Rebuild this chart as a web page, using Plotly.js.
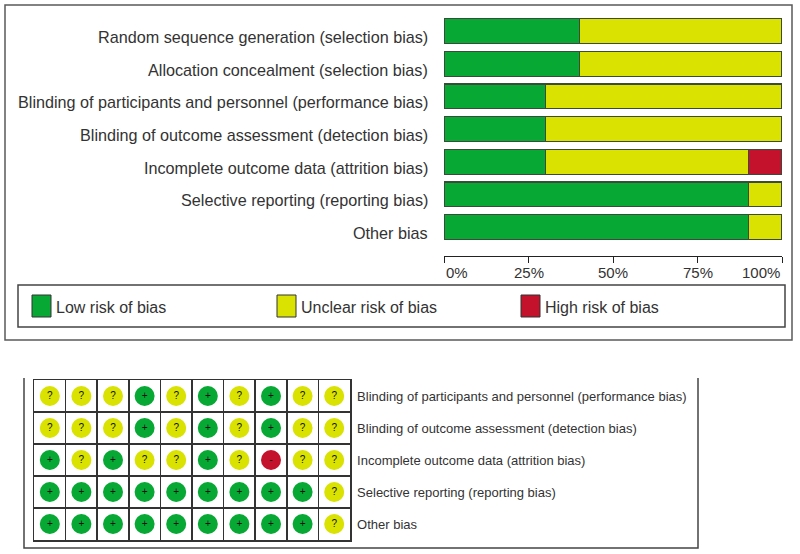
<!DOCTYPE html>
<html>
<head>
<meta charset="utf-8">
<script src="https://cdn.plot.ly/plotly-3.0.1.min.js"></script>
<style>html,body{margin:0;padding:0;background:#fff;}#chart{width:800px;height:554px;}</style>
</head>
<body>
<div id="chart"></div>
<script>
// ---- Data ----
const domains = [
  'Random sequence generation (selection bias)',
  'Allocation concealment (selection bias)',
  'Blinding of participants and personnel (performance bias)',
  'Blinding of outcome assessment (detection bias)',
  'Incomplete outcome data (attrition bias)',
  'Selective reporting (reporting bias)',
  'Other bias'
];
const lowRisk     = [40, 40, 30, 30, 30, 90, 90];
const unclearRisk = [60, 60, 70, 70, 60, 10, 10];
const highRisk    = [0, 0, 0, 0, 10, 0, 0];
const pctTicks = [0, 25, 50, 75, 100];
const pctLabels = ['0%', '25%', '50%', '75%', '100%'];
const legendNames = ['Low risk of bias', 'Unclear risk of bias', 'High risk of bias'];

const gridRows = [
  'Blinding of participants and personnel (performance bias)',
  'Blinding of outcome assessment (detection bias)',
  'Incomplete outcome data (attrition bias)',
  'Selective reporting (reporting bias)',
  'Other bias'
];
const rowBlindingParticipants = ['?','?','?','+','?','+','?','+','?','?'];
const rowBlindingOutcome      = ['?','?','?','+','?','+','?','+','?','?'];
const rowIncompleteData       = ['+','?','+','?','?','+','?','-','?','?'];
const rowSelectiveReporting   = ['+','+','+','+','+','+','+','+','+','?'];
const rowOtherBias            = ['+','+','+','+','+','+','+','+','+','?'];
const gridJudgements = [rowBlindingParticipants, rowBlindingOutcome, rowIncompleteData, rowSelectiveReporting, rowOtherBias];

// ---- Styles ----
const GREEN = '#07a834', YELLOW = '#d9e200', RED = '#c4122c';
const colorOf = {'+': GREEN, '?': YELLOW, '-': RED};
const W = 800, H = 554;
const px = x => x / W;
const py = y => 1 - y / H;
const FONT = 'Liberation Sans, Arial, sans-serif';

const barLine = {color: '#3c4a3c', width: 1.2};
const traces = [
  {type: 'bar', orientation: 'h', y: domains, x: lowRisk, name: legendNames[0],
   marker: {color: GREEN, line: barLine}, xaxis: 'x', yaxis: 'y', hoverinfo: 'x+y'},
  {type: 'bar', orientation: 'h', y: domains, x: unclearRisk, name: legendNames[1],
   marker: {color: YELLOW, line: barLine}, xaxis: 'x', yaxis: 'y', hoverinfo: 'x+y'},
  {type: 'bar', orientation: 'h', y: domains, x: highRisk, name: legendNames[2],
   marker: {color: RED, line: barLine}, xaxis: 'x', yaxis: 'y', hoverinfo: 'x+y'}
];

// grid scatter
const gx = [], gy = [], gc = [], gt = [];
gridJudgements.forEach((row, r) => {
  row.forEach((j, c) => {
    gx.push(c + 1); gy.push(r + 1); gc.push(colorOf[j]); gt.push(j);
  });
});
traces.push({
  type: 'scatter', mode: 'markers+text', x: gx, y: gy, text: gt,
  textposition: 'middle center',
  textfont: {family: FONT, size: 10, color: '#111'},
  marker: {size: 20, color: gc, line: {width: 0}},
  xaxis: 'x2', yaxis: 'y2', hoverinfo: 'text', showlegend: false
});

const nCols = gridJudgements[0].length, nRows = gridRows.length;
const colBounds = [], rowBounds = [];
for (let i = 1; i < nCols; i++) colBounds.push(i + 0.5);
for (let i = 1; i < nRows; i++) rowBounds.push(i + 0.5);
const rowIdx = gridRows.map((_, i) => i + 1);

// shapes: panel boxes and legend
const shapes = [
  {type: 'rect', xref: 'paper', yref: 'paper', x0: px(5), x1: px(792), y0: py(340), y1: py(5),
   line: {color: '#5a5a5a', width: 1.5}},
  {type: 'rect', xref: 'paper', yref: 'paper', x0: px(18), x1: px(785), y0: py(327), y1: py(285),
   line: {color: '#444', width: 1.5}},
  // bottom panel (left, bottom, right)
  {type: 'path', xref: 'paper', yref: 'paper',
   path: `M ${px(24)} ${py(378)} L ${px(24)} ${py(548)} L ${px(698)} ${py(548)} L ${px(698)} ${py(378)}`,
   line: {color: '#444', width: 1.5}}
];
const legendX = [32, 277, 521];
const legendColors = [GREEN, YELLOW, RED];
const annotations = [];
legendX.forEach((lx, i) => {
  shapes.push({type: 'rect', xref: 'paper', yref: 'paper', x0: px(lx), x1: px(lx + 19),
    y0: py(317), y1: py(295), fillcolor: legendColors[i], line: {color: '#333', width: 1}});
  annotations.push({xref: 'paper', yref: 'paper', x: px(lx + 22), y: py(307), xanchor: 'left',
    yanchor: 'middle', text: legendNames[i], showarrow: false,
    font: {family: FONT, size: 16, color: '#333'}});
});
pctTicks.forEach((t, i) => {
  annotations.push({xref: 'x', yref: 'paper', x: t, y: py(272),
    xanchor: i === 0 ? 'left' : (i === pctTicks.length - 1 ? 'right' : 'center'),
    yanchor: 'middle', text: pctLabels[i], showarrow: false,
    font: {family: FONT, size: 15, color: '#333'}});
});
// domain labels (drawn slightly below bar centres, as in the reference)
domains.forEach(d => {
  annotations.push({xref: 'paper', yref: 'y', x: px(430), y: d, xanchor: 'right',
    yanchor: 'middle', yshift: -6, text: d, showarrow: false,
    font: {family: FONT, size: 16.2, color: '#333'}});
});

const layout = {
  width: W, height: H, autosize: false,
  margin: {l: 0, r: 0, t: 0, b: 0, pad: 0},
  paper_bgcolor: '#fff', plot_bgcolor: 'rgba(0,0,0,0)',
  font: {family: FONT, color: '#333'},
  showlegend: false,
  barmode: 'stack', bargap: 0.24,
  xaxis: {domain: [px(444), px(782)], range: [0, 100], anchor: 'free', position: py(256),
    showline: true, linecolor: '#222', linewidth: 1, ticks: 'outside', ticklen: 6,
    tickcolor: '#222', tickwidth: 1, tickvals: pctTicks, showticklabels: false,
    showgrid: false, zeroline: false, fixedrange: true},
  xaxis3: {domain: [px(444), px(782)], range: [0, 100], anchor: 'free', position: py(256),
    overlaying: 'x', side: 'top', showline: false, ticks: 'outside', ticklen: 5,
    tickcolor: '#222', tickwidth: 1, tickvals: pctTicks, showticklabels: false,
    showgrid: false, zeroline: false, fixedrange: true},
  yaxis: {domain: [py(243.4), py(14.1)], type: 'category', autorange: 'reversed',
    anchor: 'x', showline: false, showgrid: false, zeroline: false, ticks: '',
    showticklabels: false, fixedrange: true},
  xaxis2: {domain: [px(34), px(350)], range: [0.5, nCols + 0.5], anchor: 'y2',
    showline: true, mirror: true, linecolor: '#333', linewidth: 1.5,
    showgrid: false, zeroline: false, showticklabels: false, ticks: '', tickvals: [],
    minor: {tickmode: 'array', tickvals: colBounds, showgrid: true, gridcolor: '#333', gridwidth: 1.5, ticks: ''},
    fixedrange: true},
  yaxis2: {domain: [py(540), py(380)], range: [nRows + 0.5, 0.5], anchor: 'x2', side: 'right',
    showline: true, mirror: true, linecolor: '#333', linewidth: 1.5,
    showgrid: false, zeroline: false, ticks: '', tickvals: rowIdx, ticktext: gridRows,
    ticklabelstandoff: 3, tickfont: {family: FONT, size: 13, color: '#333'},
    minor: {tickmode: 'array', tickvals: rowBounds, showgrid: true, gridcolor: '#333', gridwidth: 1.5, ticks: ''},
    fixedrange: true},
  shapes: shapes,
  annotations: annotations
};

Plotly.newPlot('chart', traces, layout, {displayModeBar: false, staticPlot: true});
</script>
</body>
</html>
